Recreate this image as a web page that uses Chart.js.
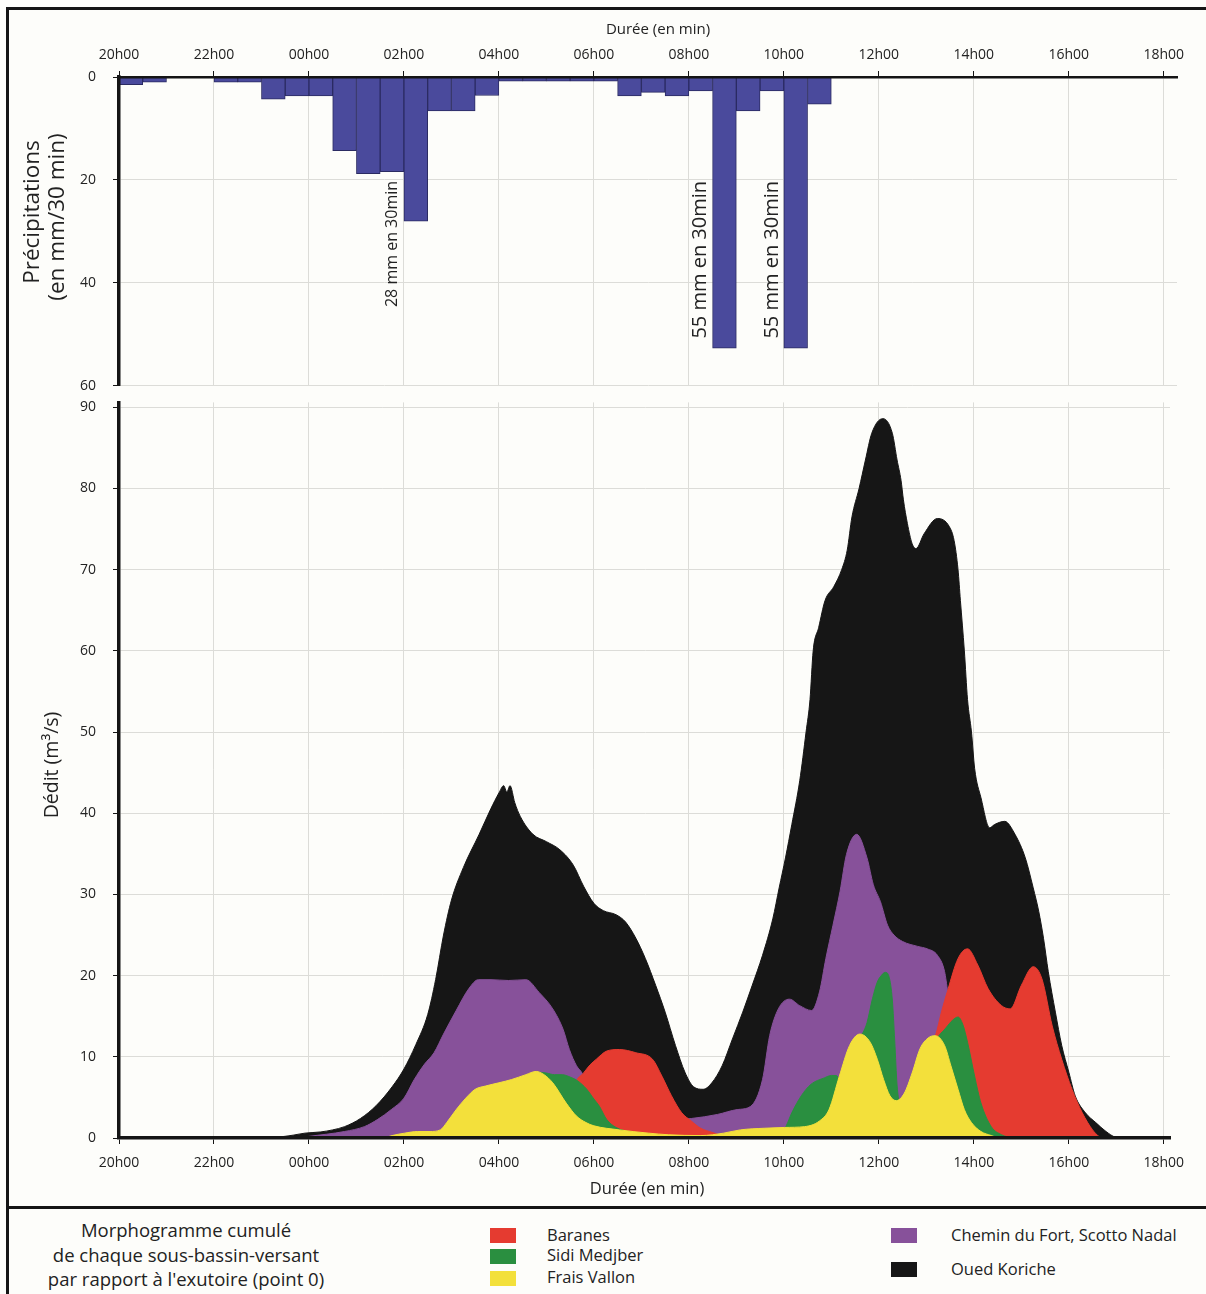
<!DOCTYPE html>
<html>
<head>
<meta charset="utf-8">
<script src="https://cdn.jsdelivr.net/npm/chart.js@4.4.1/dist/chart.umd.min.js"></script>
<style>
  html, body { margin: 0; padding: 0; width: 1206px; height: 1294px; overflow: hidden; background: #fdfdfa; }
  #frame { position: absolute; left: 6px; top: 7px; width: 1220px; height: 1310px; border: 3px solid #151515; box-sizing: border-box; }
  #sep { position: absolute; left: 6px; top: 1206px; width: 1220px; height: 3px; background: #151515; }
  canvas { position: absolute; left: 0; }
  #precip { top: 0; }
  #flow { top: 370px; }
  .leg { position: absolute; font-family: 'Open Sans', sans-serif; color: #222; white-space: nowrap; }
  .sw { position: absolute; width: 26px; height: 15px; }
</style>
</head>
<body>
<div id="frame"></div>
<canvas id="precip" width="1206" height="416"></canvas>
<canvas id="flow" width="1206" height="840"></canvas>
<div id="sep"></div>

<div class="leg" style="left:0; top:1218px; width:372px; text-align:center; font-size:18.5px; line-height:24.5px;">
  Morphogramme cumulé<br>de chaque sous-bassin-versant<br>par rapport à l'exutoire (point 0)
</div>
<div class="sw" style="left:490px; top:1228px; background:#e53b30;"></div>
<div class="sw" style="left:490px; top:1249px; background:#2a8f40;"></div>
<div class="sw" style="left:490px; top:1271px; background:#f3e03b;"></div>
<div class="sw" style="left:891px; top:1228px; background:#87519a;"></div>
<div class="sw" style="left:891px; top:1262px; background:#161616;"></div>
<div class="leg" style="left:547px; top:1224px; font-size:16.5px; line-height:22px;">Baranes</div>
<div class="leg" style="left:547px; top:1244px; font-size:16.5px; line-height:22px;">Sidi Medjber</div>
<div class="leg" style="left:547px; top:1266px; font-size:16.5px; line-height:22px;">Frais Vallon</div>
<div class="leg" style="left:951px; top:1224px; font-size:16.5px; line-height:22px;">Chemin du Fort, Scotto Nadal</div>
<div class="leg" style="left:951px; top:1258px; font-size:16.5px; line-height:22px;">Oued Koriche</div>

<script>
// rainfall, 30 min bins (start time, mm)
const rainStart = ['20:00','20:30','21:00','21:30','22:00','22:30','23:00','23:30',
  '00:00','00:30','01:00','01:30','02:00','02:30','03:00','03:30',
  '04:00','04:30','05:00','05:30','06:00','06:30','07:00','07:30',
  '08:00','08:30','09:00','09:30','10:00','10:30'];
const rainMm = [1.5, 1.0, 0, 0, 1.0, 1.0, 4.3, 3.7,
  3.7, 14.3, 18.8, 18.4, 28, 6.6, 6.6, 3.6,
  0.8, 0.8, 0.8, 0.8, 0.8, 3.7, 3.0, 3.7,
  2.7, 52.7, 6.6, 2.7, 52.7, 5.3];

// labels written next to the big bars
const rainNotes = [
  { bin: '01:30', text: '28 mm en 30min', size: 16 },
  { bin: '08:00', text: '55 mm en 30min', size: 20 },
  { bin: '09:30', text: '55 mm en 30min', size: 20 }
];

// cumulated discharge (top of each layer), [time, m3/s]
const fraisVallon = [['01:35',0],['01:45',0.3],['02:01',0.6],['02:17',0.8],['02:33',0.8],['02:46',1.0],
  ['02:54',1.9],['03:06',3.5],['03:18',4.9],['03:30',6.0],['03:43',6.4],['04:00',6.8],['04:16',7.2],
  ['04:34',7.8],['04:47',8.2],['04:57',7.8],['05:08',6.8],['05:25',4.3],['05:38',2.7],['05:50',1.9],
  ['06:00',1.5],['06:32',1.0],['07:09',0.6],['07:34',0.4],['08:15',0.3],['08:44',0.6],['09:05',1.0],
  ['09:35',1.2],['10:01',1.3],['10:26',1.4],['10:45',2.1],['10:57',3.5],['11:10',7.6],['11:23',11.4],
  ['11:36',12.8],['11:49',11.8],['11:58',9.7],['12:06',7.2],['12:14',5.2],['12:22',4.6],['12:32',5.5],
  ['12:42',8.0],['12:52',11.0],['13:02',12.3],['13:11',12.6],['13:23',11.4],['13:31',8.9],['13:40',6.0],
  ['13:48',3.5],['13:57',1.9],['14:09',0.8],['14:22',0.3],['14:31',0]];

const sidiMedjber = [['04:40',0],['04:50',8.1],['05:00',8.0],['05:10',7.8],['05:20',7.8],['05:30',7.5],
  ['05:40',7.0],['05:51',6.0],['06:00',4.8],['06:07',3.9],['06:16',2.3],['06:28',1.3],['06:49',0.7],
  ['07:09',0.5],['07:30',0],['09:55',0],['10:03',1.5],['10:10',3.1],['10:22',5.2],['10:34',6.6],
  ['10:51',7.4],['11:00',7.7],['11:06',7.7],['11:12',7.2],['11:22',9.5],['11:30',11.5],['11:40',13.0],
  ['11:45',14.2],['11:52',17.2],['11:58',19.2],['12:03',20.0],['12:08',20.4],['12:13',19.8],['12:17',17.0],
  ['12:20',12.0],['12:23',6.5],['12:27',4.0],['12:40',3.0],['13:00',9.0],['13:12',12.0],['13:25',13.6],
  ['13:33',14.5],['13:40',14.9],['13:46',14.0],['13:52',11.8],['14:01',7.6],['14:09',4.3],['14:22',1.4],
  ['14:35',0.4],['14:48',0]];

const baranes = [['05:20',0],['05:38',7.0],['05:46',7.9],['05:55',9.0],['06:03',9.7],['06:16',10.7],
  ['06:32',10.9],['06:53',10.5],['07:14',9.7],['07:26',7.6],['07:38',5.2],['07:51',3.1],['08:03',2.1],
  ['08:15',1.2],['08:29',0.7],['08:45',0.2],['09:00',0],['12:45',0],['13:05',11.5],['13:12',12.8],
  ['13:19',15.5],['13:27',18.2],['13:40',22.1],['13:52',23.3],['14:05',21.3],['14:18',18.4],['14:35',16.3],
  ['14:46',15.9],['15:00',18.8],['15:15',21.1],['15:26',19.6],['15:39',13.8],['15:51',9.7],['16:04',6.0],
  ['16:17',3.1],['16:30',1.0],['16:38',0.2],['16:45',0]];

const cheminDuFort = [['23:45',0],['00:00',0.2],['00:45',0.8],['01:10',1.4],['01:27',2.3],['01:44',3.5],
  ['02:00',4.9],['02:13',7.2],['02:26',9.1],['02:38',10.5],['02:50',12.8],['03:06',15.7],['03:22',18.4],
  ['03:34',19.5],['03:50',19.5],['04:12',19.4],['04:34',19.5],['04:51',17.9],['05:08',15.9],['05:21',13.4],
  ['05:29',10.9],['05:38',8.9],['05:46',7.8],['05:55',5.0],['06:10',3.0],['06:40',2.2],['07:30',2.2],
  ['08:03',2.4],['08:36',2.9],['09:01',3.5],['09:18',3.9],['09:33',7.2],['09:42',12.6],['09:53',15.9],
  ['10:07',17.1],['10:20',16.3],['10:35',15.7],['10:45',18.0],['10:53',22.1],['11:02',26.2],['11:11',30.4],
  ['11:19',34.9],['11:32',37.4],['11:45',34.5],['11:53',31.2],['12:02',29.1],['12:11',26.2],['12:19',25.0],
  ['12:30',24.2],['12:49',23.6],['13:01',23.3],['13:14',22.5],['13:23',20.5],['13:27',18.0],['13:35',13.0],
  ['13:45',5.0],['13:55',0]];

const ouedKoriche = [['23:00',0],['23:20',0.1],['23:40',0.35],['23:55',0.6],['00:15',0.75],['00:30',1.0],
  ['00:45',1.4],['01:05',2.4],['01:25',4.0],['01:45',6.3],['02:00',8.5],['02:15',11.5],['02:30',15.2],
  ['02:40',19.5],['02:50',25.0],['03:00',29.3],['03:15',33.3],['03:35',37.4],['03:50',40.6],['04:00',42.5],
  ['04:06',43.4],['04:10',42.6],['04:14',43.4],['04:20',41.3],['04:27',39.6],['04:43',37.4],['05:00',36.5],
  ['05:17',35.5],['05:34',33.6],['05:47',31.0],['06:00',28.9],['06:12',28.0],['06:28',27.5],['06:40',26.6],
  ['06:53',24.6],['07:05',22.1],['07:18',18.8],['07:30',15.5],['07:43',11.4],['07:55',8.1],['08:06',6.3],
  ['08:18',6.0],['08:29',6.8],['08:42',8.9],['08:55',12.2],['09:08',15.5],['09:20',18.8],['09:33',22.5],
  ['09:46',27.0],['09:54',30.8],['10:02',34.5],['10:10',38.6],['10:20',44.0],['10:28',50.0],['10:33',54.0],
  ['10:37',60.0],['10:44',62.9],['10:52',66.2],['11:03',67.9],['11:13',70.0],['11:20',72.4],['11:26',76.5],
  ['11:35',80.0],['11:43',83.5],['11:51',86.8],['12:05',88.6],['12:17',86.8],['12:23',83.5],['12:28',81.0],
  ['12:31',78.6],['12:36',75.7],['12:42',73.2],['12:47',72.6],['12:57',74.4],['13:14',76.3],['13:29',75.3],
  ['13:35',73.6],['13:40',70.0],['13:43',66.2],['13:48',60.0],['13:52',54.0],['13:57',50.0],['14:01',45.5],
  ['14:09',41.9],['14:20',38.2],['14:26',38.6],['14:39',39.0],['14:52',37.4],['15:05',34.5],['15:15',30.8],
  ['15:22',27.9],['15:28',24.6],['15:34',20.5],['15:43',15.5],['15:51',11.4],['16:00',8.1],['16:08',5.2],
  ['16:21',3.1],['16:34',1.9],['16:47',0.8],['16:59',0.1],['17:10',0]];

const hourTicks = ['20h00','22h00','00h00','02h00','04h00','06h00','08h00','10h00','12h00','14h00','16h00','18h00'];

const ink = '#222';
const tickFont = { family: "'Open Sans', sans-serif", size: 14 };

// hours elapsed since 20h00
function toHours(t) {
  const [hh, mm] = t.split(':').map(Number);
  return ((hh - 20 + 24) % 24) + mm / 60;
}

function hourLabel(v) {
  return hourTicks[Math.round(v / 2)] || '';
}

function freeText(getItems) {
  return {
    id: 'freeText',
    afterDraw(chart) {
      const ctx = chart.ctx;
      getItems(chart).forEach(it => {
        ctx.save();
        ctx.translate(it.x, it.y);
        if (it.rot) ctx.rotate(it.rot);
        ctx.font = it.font;
        ctx.fillStyle = ink;
        ctx.textAlign = it.align || 'center';
        ctx.textBaseline = 'middle';
        ctx.fillText(it.text, 0, 0);
        ctx.restore();
      });
    }
  };
}

function xAxis(pos, max, height, pad) {
  return {
    type: 'linear', position: pos, min: 0, max: max, offset: false,
    ticks: { stepSize: 2, includeBounds: false, callback: hourLabel, font: tickFont, color: ink, padding: pad, maxRotation: 0 },
    grid: { color: '#dcdcd8', tickColor: '#151515', tickLength: 6, offset: false },
    border: { color: '#151515', width: pos === 'top' ? 2.5 : 3.5, z: 1 },
    afterFit: s => { s.height = height; }
  };
}

function yAxis(max, step, reverse) {
  return {
    min: 0, max: max, reverse: reverse,
    ticks: { stepSize: step, includeBounds: false, font: tickFont, color: ink, padding: 17 },
    grid: { color: '#dcdcd8', tickColor: '#151515', tickLength: 6 },
    border: { color: '#151515', width: 3.5, z: 1 },
    afterFit: s => { s.width = 119; }
  };
}

// precipitation bars
new Chart(document.getElementById('precip'), {
  type: 'bar',
  data: {
    datasets: [{
      data: rainStart.map((t, i) => ({ x: toHours(t) + 0.25, y: rainMm[i] })).filter(p => p.y > 0),
      backgroundColor: '#4a4a9c',
      borderColor: '#2b2b62',
      borderWidth: 1,
      barPercentage: 1,
      categoryPercentage: 1
    }]
  },
  options: {
    responsive: false,
    animation: false,
    layout: { padding: { left: 0, right: 29, top: 0, bottom: 30.3 } },
    plugins: { legend: { display: false }, tooltip: { enabled: false } },
    scales: {
      x: xAxis('top', 22.28, 77, 8),
      y: yAxis(60, 20, true)
    }
  },
  plugins: [freeText(chart => {
    const xs = chart.scales.x, ys = chart.scales.y;
    const items = [
      { text: 'Durée (en min)', x: 658, y: 30, font: "15px 'Open Sans'" },
      { text: 'Précipitations', x: 33, y: 212, rot: -Math.PI / 2, font: "22.5px 'Open Sans'" },
      { text: '(en mm/30 min)', x: 58, y: 217, rot: -Math.PI / 2, font: "22.5px 'Open Sans'" }
    ];
    rainNotes.forEach(n => items.push({
      text: n.text,
      x: xs.getPixelForValue(toHours(n.bin) + 0.25),
      y: ys.getPixelForValue(20.2),
      rot: -Math.PI / 2, align: 'right',
      font: n.size + "px 'Open Sans'"
    }));
    return items;
  })]
});

// cumulated morphogram, front layer first
const layers = [
  { name: 'Frais Vallon', pts: fraisVallon, color: '#f3e03b' },
  { name: 'Sidi Medjber', pts: sidiMedjber, color: '#2a8f40' },
  { name: 'Baranes', pts: baranes, color: '#e53b30' },
  { name: 'Chemin du Fort, Scotto Nadal', pts: cheminDuFort, color: '#87519a' },
  { name: 'Oued Koriche', pts: ouedKoriche, color: '#161616' }
];

new Chart(document.getElementById('flow'), {
  type: 'line',
  data: {
    datasets: layers.map((l, i) => ({
      label: l.name,
      data: l.pts.map(p => ({ x: toHours(p[0]), y: p[1] })),
      backgroundColor: l.color,
      borderColor: l.color,
      borderWidth: 1,
      pointRadius: 0,
      fill: 'origin',
      cubicInterpolationMode: 'monotone',
      order: i
    }))
  },
  options: {
    responsive: false,
    animation: false,
    layout: { padding: { left: 0, right: 36, top: 32.4, bottom: 0 } },
    plugins: { legend: { display: false }, tooltip: { enabled: false } },
    scales: {
      x: xAxis('bottom', 22.13, 72, 11),
      y: yAxis(90.6, 10, false)
    }
  },
  plugins: [freeText(() => [
    { text: 'Dédit (m³/s)', x: 52, y: 395, rot: -Math.PI / 2, font: "19.5px 'Open Sans'" },
    { text: 'Durée (en min)', x: 647, y: 819, font: "16.5px 'Open Sans'" }
  ])]
});
</script>
</body>
</html>
